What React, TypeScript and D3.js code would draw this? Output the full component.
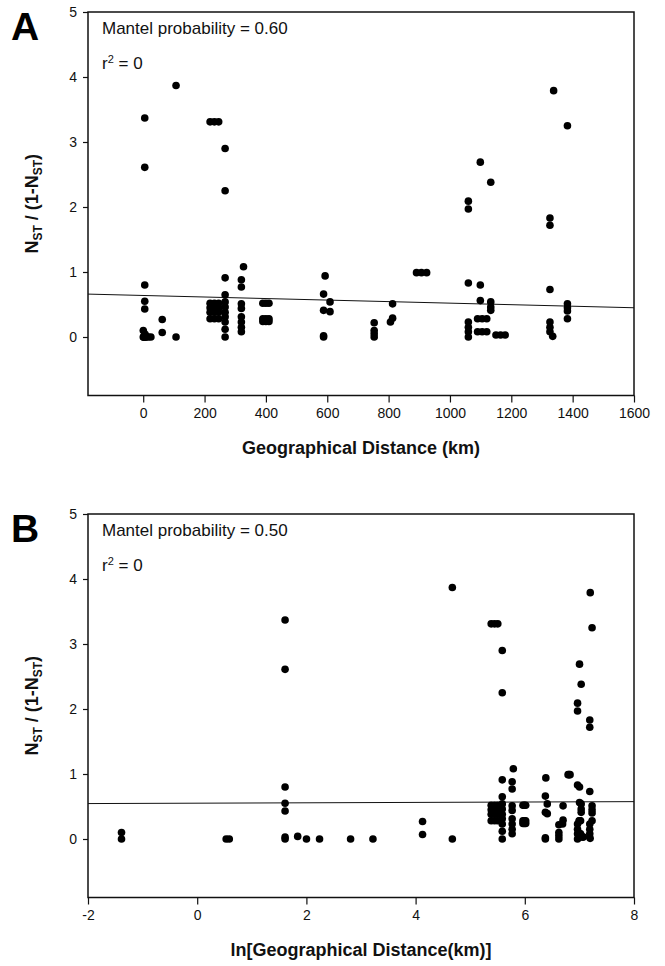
import React, { useEffect, useRef } from "react";
import * as d3 from "d3";

// pairwise geographical distance (km) and NST/(1-NST);
// panel B plots the same pairs against ln(distance)
const groupDistance = [
  0.25, 1.7, 1.8, 5, 6.3, 7.4, 9.4, 16.6, 25, 62, 107, 218, 232, 246, 267, 320,
  327, 390, 400, 410, 588, 593, 609, 753, 806, 813, 891, 907, 924, 1060, 1090,
  1099, 1105, 1120, 1133, 1150, 1165, 1180, 1326, 1335, 1338, 1383,
];
const groupValues = [
  [0.1, 0],
  [0],
  [0],
  [3.37, 2.61, 0.8, 0.55, 0.43, 0.03, 0],
  [0.04],
  [0],
  [0],
  [0],
  [0],
  [0.27, 0.07],
  [3.87, 0],
  [3.31, 0.52, 0.45, 0.38, 0.28],
  [3.31, 0.52, 0.45, 0.38, 0.28],
  [3.31, 0.52, 0.45, 0.38, 0.28],
  [2.9, 2.25, 0.91, 0.65, 0.54, 0.46, 0.38, 0.31, 0.23, 0.12, 0],
  [0.88, 0.77, 0.51, 0.44, 0.31, 0.23, 0.15, 0.08],
  [1.08],
  [0.52, 0.28, 0.24],
  [0.52, 0.28, 0.24],
  [0.52, 0.28, 0.24],
  [0.66, 0.41, 0.02, 0],
  [0.94],
  [0.54, 0.39],
  [0.22, 0.1, 0.05, 0],
  [0.23],
  [0.51, 0.29],
  [0.99],
  [0.99],
  [0.99],
  [2.09, 1.97, 0.83, 0.23, 0.15, 0.08, 0],
  [0.28, 0.08],
  [2.69, 0.8, 0.56],
  [0.28, 0.08],
  [0.28, 0.08],
  [2.38, 0.54, 0.46, 0.41],
  [0.03],
  [0.03],
  [0.03],
  [1.83, 1.72, 0.73, 0.23, 0.15, 0.08],
  [0.01],
  [3.79],
  [3.25, 0.51, 0.45, 0.4, 0.28],
];

const yTicks = [0, 1, 2, 3, 4, 5];
const xTicksA = [0, 200, 400, 600, 800, 1000, 1200, 1400, 1600];
const xTicksB = [-2, 0, 2, 4, 6, 8];

// regression line end points [x, y]
const fitA = [
  [-180, 0.66],
  [1600, 0.45],
];
const fitB = [
  [-2, 0.545],
  [8, 0.575],
];

const mantelA = "0.60";
const mantelB = "0.50";

const font = "'Liberation Sans', Arial, sans-serif";

const App = () => {
  const ref = useRef<SVGSVGElement>(null);

  useEffect(() => {
    const svg = d3.select(ref.current);
    svg.selectAll("*").remove();

    const points = groupDistance.flatMap((d, i) =>
      groupValues[i].map((v) => ({ d, v }))
    );

    const panels = [
      {
        letter: "A",
        top: 12,
        xDomain: [-180, 1600],
        xTicks: xTicksA,
        xOf: (d: number) => d,
        fit: fitA,
        mantel: mantelA,
        title: "Geographical Distance (km)",
      },
      {
        letter: "B",
        top: 514,
        xDomain: [-2, 8],
        xTicks: xTicksB,
        xOf: (d: number) => Math.log(d),
        fit: fitB,
        mantel: mantelB,
        title: "ln[Geographical Distance(km)]",
      },
    ];

    const left = 88;
    const width = 546;
    const height = 383.5;
    const fmt = (v: number) => String(v);

    panels.forEach((p) => {
      const g = svg.append("g").attr("transform", `translate(${left},${p.top})`);
      const x = d3.scaleLinear().domain(p.xDomain).range([0, width]);
      const y = d3.scaleLinear().domain([-0.9, 5]).range([height, 0]);

      // frame
      g.append("rect")
        .attr("width", width)
        .attr("height", height)
        .attr("fill", "none")
        .attr("stroke", "#111")
        .attr("stroke-width", 1.5);

      const xAxis = g
        .append("g")
        .attr("transform", `translate(0,${height})`)
        .call(
          d3
            .axisBottom(x)
            .tickValues(p.xTicks)
            .tickFormat(fmt)
            .tickSize(7)
            .tickSizeOuter(0)
            .tickPadding(6)
        );
      xAxis.select(".domain").remove();
      xAxis.selectAll("line").attr("stroke", "#111").attr("stroke-width", 1.2);
      xAxis
        .selectAll("text")
        .attr("font-family", font)
        .attr("font-size", 14)
        .attr("fill", "#111");

      const yAxis = g
        .append("g")
        .call(
          d3
            .axisLeft(y)
            .tickValues(yTicks)
            .tickFormat(fmt)
            .tickSize(5)
            .tickSizeOuter(0)
            .tickPadding(6)
        );
      yAxis.select(".domain").remove();
      yAxis.selectAll("line").attr("stroke", "#111").attr("stroke-width", 1.2);
      yAxis
        .selectAll("text")
        .attr("font-family", font)
        .attr("font-size", 14)
        .attr("fill", "#111");

      // regression line
      g.append("path")
        .datum(p.fit)
        .attr("fill", "none")
        .attr("stroke", "#111")
        .attr("stroke-width", 1)
        .attr(
          "d",
          d3
            .line<number[]>()
            .x((d) => x(d[0]))
            .y((d) => y(d[1]))
        );

      g.selectAll("circle.pt")
        .data(points)
        .join("circle")
        .attr("class", "pt")
        .attr("cx", (d) => x(p.xOf(d.d)))
        .attr("cy", (d) => y(d.v))
        .attr("r", 3.8)
        .attr("fill", "#000");

      // annotations
      g.append("text")
        .attr("x", 14)
        .attr("y", 22)
        .attr("font-family", font)
        .attr("font-size", 17)
        .attr("fill", "#111")
        .text(`Mantel probability = ${p.mantel}`);

      const r2 = g
        .append("text")
        .attr("x", 14)
        .attr("y", 57)
        .attr("font-family", font)
        .attr("font-size", 17)
        .attr("fill", "#111");
      r2.append("tspan").text("r");
      r2.append("tspan").attr("dy", -6).attr("font-size", 11).text("2");
      r2.append("tspan").attr("dy", 6).text(" = 0");

      // axis titles
      g.append("text")
        .attr("x", width / 2)
        .attr("y", height + 58)
        .attr("text-anchor", "middle")
        .attr("font-family", font)
        .attr("font-size", 18)
        .attr("font-weight", "bold")
        .attr("fill", "#111")
        .text(p.title);

      const yl = g
        .append("text")
        .attr("transform", `translate(${-50},${height / 2}) rotate(-90)`)
        .attr("text-anchor", "middle")
        .attr("font-family", font)
        .attr("font-size", 18)
        .attr("font-weight", "bold")
        .attr("fill", "#111");
      yl.append("tspan").text("N");
      yl.append("tspan").attr("dy", 4).attr("font-size", 12).text("ST");
      yl.append("tspan").attr("dy", -4).text(" / (1-N");
      yl.append("tspan").attr("dy", 4).attr("font-size", 12).text("ST");
      yl.append("tspan").attr("dy", -4).text(")");

      // panel letter
      svg
        .append("text")
        .attr("x", 11)
        .attr("y", p.top + 28)
        .attr("font-family", font)
        .attr("font-size", 39)
        .attr("font-weight", "bold")
        .attr("fill", "#000")
        .text(p.letter);
    });
  }, []);

  return (
    <div style={{ position: "absolute", left: 0, top: 0, background: "#fff" }}>
      <svg ref={ref} width={665} height={966} />
    </div>
  );
};

export default App;
